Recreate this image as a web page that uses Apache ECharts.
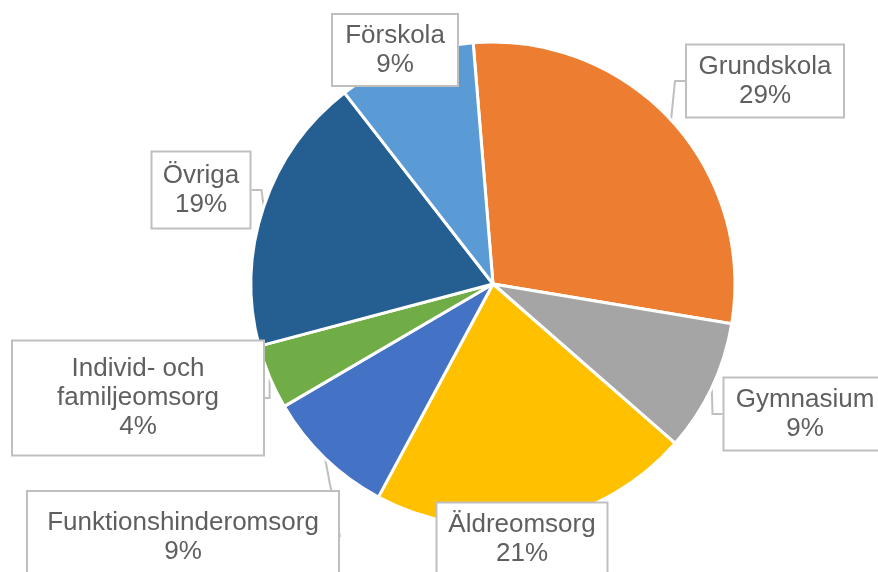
<!DOCTYPE html>
<html>
<head>
<meta charset="utf-8">
<script src="https://cdn.jsdelivr.net/npm/echarts@6/dist/echarts.min.js"></script>
<style>
html,body{margin:0;padding:0;background:#fff;}
#chart{width:878px;height:572px;}
</style>
</head>
<body>
<div id="chart"></div>
<script>
// Data (clockwise from top)
var categories = ['Grundskola', 'Gymnasium', 'Äldreomsorg', 'Funktionshinderomsorg', 'Individ- och\nfamiljeomsorg', 'Övriga', 'Förskola'];
var values = [28.9, 8.8, 21.4, 8.7, 4.3, 18.6, 9.2];
var colors = ['#ED7D31', '#A5A5A5', '#FFC000', '#4472C4', '#70AD47', '#255E91', '#5B9BD5'];

// Label box layout: centre x, centre y, width, height
var boxCx = [765, 805, 522, 183, 138, 201, 395];
var boxCy = [81, 414, 539, 537, 398, 190, 50];
var boxW  = [156, 161, 169, 310, 250, 97, 124];
var boxH  = [71, 71, 71, 90, 113, 75, 70];
var showPointer = [true, true, false, true, true, true, false];

var LINE_H = 29;
var data = categories.map(function (c, i) {
  var lines = c.split('\n').length + 1;
  var vpad = Math.max(0, (boxH[i] - lines * LINE_H) / 2);
  return {
    name: c,
    value: values[i],
    itemStyle: { color: colors[i] },
    label: { width: boxW[i], padding: [vpad, 0, vpad, 0] },
    labelLine: { show: showPointer[i] }
  };
});

var chart = echarts.init(document.getElementById('chart'), null, { renderer: 'canvas' });
chart.setOption({
  animation: false,
  backgroundColor: '#ffffff',
  series: [{
    type: 'pie',
    center: [493, 284],
    radius: [0, 242],
    startAngle: 94.7,
    clockwise: true,
    avoidLabelOverlap: false,
    data: data,
    itemStyle: { borderColor: '#ffffff', borderWidth: 3 },
    label: {
      show: true,
      position: 'outside',
      formatter: function (p) { return p.name + '\n' + Math.round(p.percent) + '%'; },
      fontFamily: 'Liberation Sans, Arial, sans-serif',
      fontSize: 26,
      lineHeight: LINE_H,
      color: '#5f5f5f',
      align: 'center',
      backgroundColor: '#ffffff',
      borderColor: '#bfbfbf',
      borderWidth: 2
    },
    labelLine: {
      show: true,
      length: 10,
      length2: 10,
      smooth: false,
      lineStyle: { color: '#bfbfbf', width: 2 }
    },
    labelLayout: function (params) {
      var i = params.dataIndex;
      return { x: boxCx[i], y: boxCy[i], align: 'center', verticalAlign: 'middle' };
    }
  }]
});
</script>
</body>
</html>
